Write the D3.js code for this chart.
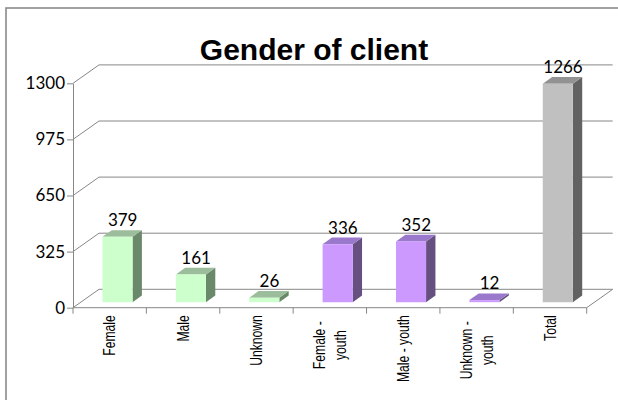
<!DOCTYPE html>
<html>
<head>
<meta charset="utf-8">
<script src="https://cdn.jsdelivr.net/npm/d3@7"></script>
<style>
  body { margin: 0; background: #fff; }
  svg { display: block; }
</style>
</head>
<body>
<svg id="chart" width="618" height="400"></svg>
<script>
const categories = ['Female', 'Male', 'Unknown', 'Female - youth', 'Male - youth', 'Unknown - youth', 'Total'];
const catLines = [['Female'], ['Male'], ['Unknown'], ['Female -', 'youth'], ['Male - youth'], ['Unknown -', 'youth'], ['Total']];
const counts = [379, 161, 26, 336, 352, 12, 1266];
const groups = ['adult', 'adult', 'adult', 'youth', 'youth', 'youth', 'total'];
const yTicks = [0, 325, 650, 975, 1300];

// face colours per group: front, top, side
const palette = {
    adult: ['#ccffcc', '#9bbd9b', '#6a886a'],
    youth: ['#cc99ff', '#9a78cc', '#65507f'],
    total: ['#c0c0c0', '#929292', '#626262']
};

const svg = d3.select('#chart');

// 3d layout: front plane + depth offset
const x0 = 73, x1 = 586.7, floorY = 307.7;
const depthX = 26, depthY = 18.4;
const zFront = 0.3, zBack = 0.66;

let xScale = d3.scaleBand()
    .domain(categories)
    .range([x0, x1])
    .padding(0);
let yScale = d3.scaleLinear()
    .domain([0, 1300])
    .range([floorY, floorY - 224.4]);

const proj = (x, v, z) => [x + z * depthX, yScale(v) - z * depthY];

// outer frame
svg.append('rect')
    .attr('x', 6).attr('y', 8)
    .attr('width', 620).attr('height', 400)
    .attr('fill', 'none')
    .attr('stroke', '#8a8a8a')
    .attr('stroke-width', 1.6);

const lineColor = '#878787';
const walls = svg.append('g').attr('stroke', lineColor).attr('stroke-width', 1).attr('fill', 'none');

// back wall gridlines + left wall diagonals
yTicks.forEach(t => {
    const b = proj(x0, t, 1);
    const e = proj(x1, t, 1);
    walls.append('line')
        .attr('x1', b[0]).attr('y1', b[1])
        .attr('x2', e[0]).attr('y2', e[1]);
    walls.append('line')
        .attr('x1', x0).attr('y1', yScale(t))
        .attr('x2', b[0]).attr('y2', b[1]);
});

// floor front edge and right diagonal
const fr = proj(x1, 0, 1);
walls.append('line')
    .attr('x1', x0).attr('y1', floorY)
    .attr('x2', x1).attr('y2', floorY);
walls.append('line')
    .attr('x1', x1).attr('y1', floorY)
    .attr('x2', fr[0]).attr('y2', fr[1]);

// category ticks at band edges
const edges = categories.map(c => xScale(c)).concat([x1]);
walls.selectAll('line.xtick')
    .data(edges)
    .enter().append('line')
    .attr('class', 'xtick')
    .attr('x1', d => d).attr('x2', d => d)
    .attr('y1', floorY).attr('y2', floorY + 6);

// y axis
const yAxis = d3.axisLeft(yScale)
    .tickValues(yTicks)
    .tickFormat(d3.format('d'))
    .tickSize(6)
    .tickSizeOuter(0)
    .tickPadding(2);
const yG = svg.append('g')
    .attr('transform', `translate(${x0},0)`)
    .call(yAxis);
yG.selectAll('path, line').attr('stroke', lineColor);
yG.selectAll('text')
    .attr('fill', '#000')
    .style('font-family', 'Lato, "Open Sans", sans-serif')
    .style('font-size', '17px');

// bars
const barW = xScale.bandwidth() * 0.41;
const bars = svg.append('g');
categories.forEach((c, i) => {
    const cx = xScale(c) + xScale.bandwidth() / 2;
    const l = cx - barW / 2, r = cx + barW / 2;
    const v = counts[i];
    const col = palette[groups[i]];
    const pts = (arr) => arr.map(p => p.join(',')).join(' ');

    // side face
    bars.append('polygon')
        .attr('points', pts([proj(r, 0, zFront), proj(r, 0, zBack), proj(r, v, zBack), proj(r, v, zFront)]))
        .attr('fill', col[2]);
    // top face
    bars.append('polygon')
        .attr('points', pts([proj(l, v, zFront), proj(r, v, zFront), proj(r, v, zBack), proj(l, v, zBack)]))
        .attr('fill', col[1]);
    // front face
    bars.append('polygon')
        .attr('points', pts([proj(l, 0, zFront), proj(r, 0, zFront), proj(r, v, zFront), proj(l, v, zFront)]))
        .attr('fill', col[0]);

    // value label
    const top = proj(cx, v, (zFront + zBack) / 2 + 0.02);
    bars.append('text')
        .attr('x', top[0])
        .attr('y', proj(cx, v, zBack)[1] - 4)
        .attr('text-anchor', 'middle')
        .style('font-family', 'Lato, "Open Sans", sans-serif')
        .style('font-size', '17px')
        .text(v);
});

// category labels, rotated and condensed
const labelTop = floorY + 7.5;
const squeeze = 0.76;
categories.forEach((c, i) => {
    const cx = xScale(c) + xScale.bandwidth() / 2;
    const lines = catLines[i];
    const g = svg.append('g')
        .attr('transform', `translate(${cx},${labelTop}) rotate(-90) scale(${squeeze},1)`)
        .style('font-family', '"Liberation Sans", Arial, sans-serif')
        .style('font-size', '16px');
    if (lines.length === 1) {
        g.append('text')
            .attr('text-anchor', 'end')
            .attr('dy', '0.36em')
            .text(lines[0]);
    } else {
        const texts = lines.map((t, j) => g.append('text')
            .attr('text-anchor', 'middle')
            .attr('y', (j - (lines.length - 1) / 2) * 21)
            .attr('dy', '0.36em')
            .text(t));
        const maxLen = d3.max(texts, t => t.node().getComputedTextLength());
        texts.forEach(t => t.attr('x', -(maxLen / 2 + 6 / squeeze)));
    }
});

// title
svg.append('text')
    .attr('x', 314)
    .attr('y', 60)
    .attr('text-anchor', 'middle')
    .style('font-family', '"Liberation Sans", Arial, sans-serif')
    .style('font-size', '30px')
    .style('font-weight', 'bold')
    .text('Gender of client');
</script>
</body>
</html>
